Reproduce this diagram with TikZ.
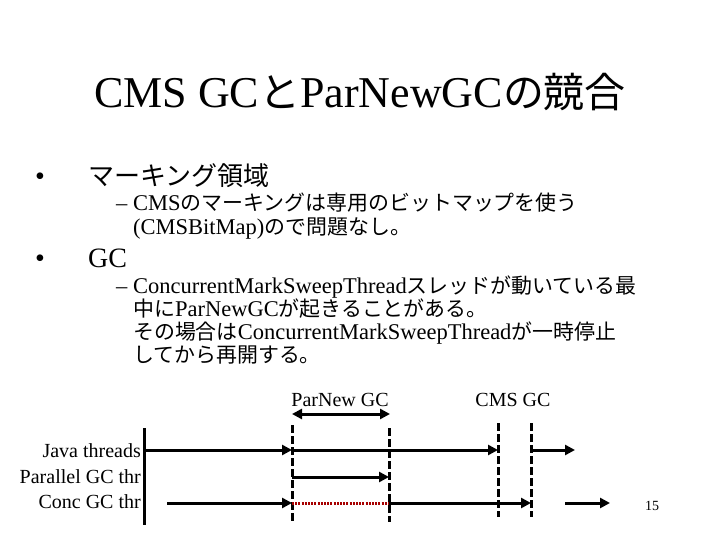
\documentclass[tikz,border=0pt]{standalone}
\usepackage{fontspec}
\setmainfont{Liberation Serif}
\newfontfamily\cjk[Scale=0.93]{Noto Sans CJK JP}
\newcommand{\ja}[1]{{\cjk #1}}
\usetikzlibrary{arrows.meta}

\tikzset{
	txt/.style = {inner sep=0pt, anchor=base west},
	thr/.style = {line width=3pt},
	thrarrow/.style = {thr, -{Triangle[length=10pt,width=10pt]}},
	gcline/.style = {line width=3pt, dash pattern=on 8pt off 3pt},
	lbl/.style = {inner sep=0pt, font=\fontsize{20}{22}\selectfont},
}

\begin{document}
\begin{tikzpicture}[x=1pt, y=-1pt]
	\useasboundingbox (0,0) rectangle (720,540);

	% title
	\node[inner sep=0pt, anchor=base, font=\fontsize{44}{47}\selectfont] (title) at (360,108)
		{CMS GC\ja{と}ParNewGC\ja{の競合}};

	% first bullet
	\node[txt, font=\fontsize{28}{30}\selectfont] (dot1) at (35,186) {\textbullet};
	\node[txt, font=\fontsize{28}{30}\selectfont] (mark) at (88,186) {\ja{マーキング領域}};
	\node[txt, font=\fontsize{22.5}{24}\selectfont] (dash1) at (116,211) {--};
	\node[txt, font=\fontsize{22.5}{24}\selectfont] (markA) at (133,211) {CMS\ja{のマーキングは専用のビットマップを使う}};
	\node[txt, font=\fontsize{22.5}{24}\selectfont] (markB) at (133,235) {(CMSBitMap)\ja{ので問題なし。}};

	% second bullet
	\node[txt, font=\fontsize{28}{30}\selectfont] (dot2) at (35,267) {\textbullet};
	\node[txt, font=\fontsize{28}{30}\selectfont] (gc) at (88,267) {GC};
	\node[txt, font=\fontsize{22.5}{24}\selectfont] (dash2) at (116,293) {--};
	\node[txt, font=\fontsize{22.5}{24}\selectfont] (gcA) at (133,293) {ConcurrentMarkSweepThread\ja{スレッドが動いている最}};
	\node[txt, font=\fontsize{22.5}{24}\selectfont] (gcB) at (133,316) {\ja{中に}ParNewGC\ja{が起きることがある。}};
	\node[txt, font=\fontsize{22.5}{24}\selectfont] (gcC) at (133,339) {\ja{その場合は}ConcurrentMarkSweepThread\ja{が一時停止}};
	\node[txt, font=\fontsize{22.5}{24}\selectfont] (gcD) at (133,362) {\ja{してから再開する。}};

	% thread names
	\node[lbl, anchor=east] (java) at (141,451) {Java threads};
	\node[lbl, anchor=east] (par) at (141,477) {Parallel GC thr};
	\node[lbl, anchor=east] (conc) at (141,502) {Conc GC thr};

	% gc phases
	\node[lbl, anchor=base] (pnlbl) at (340,406) {ParNew GC};
	\node[lbl, anchor=base] (cmslbl) at (513,406) {CMS GC};
	\foreach \nm/\x/\ya/\yb in {pna/292/425/522, pnb/389/428/522, cmsa/498/423/517, cmsb/531/423/517} {
		\coordinate (\nm top) at (\x,\ya);
		\coordinate (\nm bot) at (\x,\yb);
		\draw[gcline] (\nm top) -- (\nm bot);
	}
	\coordinate (pnl) at (292,414);
	\coordinate (pnr) at (390,414);
	\draw[thr, {Triangle[length=10pt,width=10pt]}-{Triangle[length=10pt,width=10pt]}] (pnl) -- (pnr);

	% time axis
	\coordinate (axtop) at (144,428);
	\coordinate (axbot) at (144,525);
	\draw[thr] (axtop) -- (axbot);

	\coordinate (javarow) at (144,450);
	\coordinate (parrow) at (292,477);
	\coordinate (concrow) at (167,503);
	\coordinate (javaend) at (575,450);
	\coordinate (concA) at (565,503);
	\coordinate (concB) at (610,503);

	% java threads
	\draw[thrarrow] (javarow) -- (pnatop |- javarow);
	\draw[thrarrow] (pnatop |- javarow) -- (cmsatop |- javarow);
	\draw[thrarrow] (cmsbtop |- javarow) -- (javaend);
	% parallel gc
	\draw[thrarrow] (parrow) -- (pnbtop |- parrow);
	% conc gc
	\draw[thrarrow] (concrow) -- (pnatop |- concrow);
	\draw[line width=3pt, red!65!black, dash pattern=on 2pt off 1.2pt] (pnatop |- concrow) -- (pnbtop |- concrow);
	\draw[thrarrow] (pnbtop |- concrow) -- (cmsbtop |- concrow);
	\draw[thrarrow] (concA) -- (concB);

	\node[inner sep=0pt, anchor=base, font=\fontsize{14}{16}\selectfont] (page) at (652,510) {15};
\end{tikzpicture}
\end{document}
